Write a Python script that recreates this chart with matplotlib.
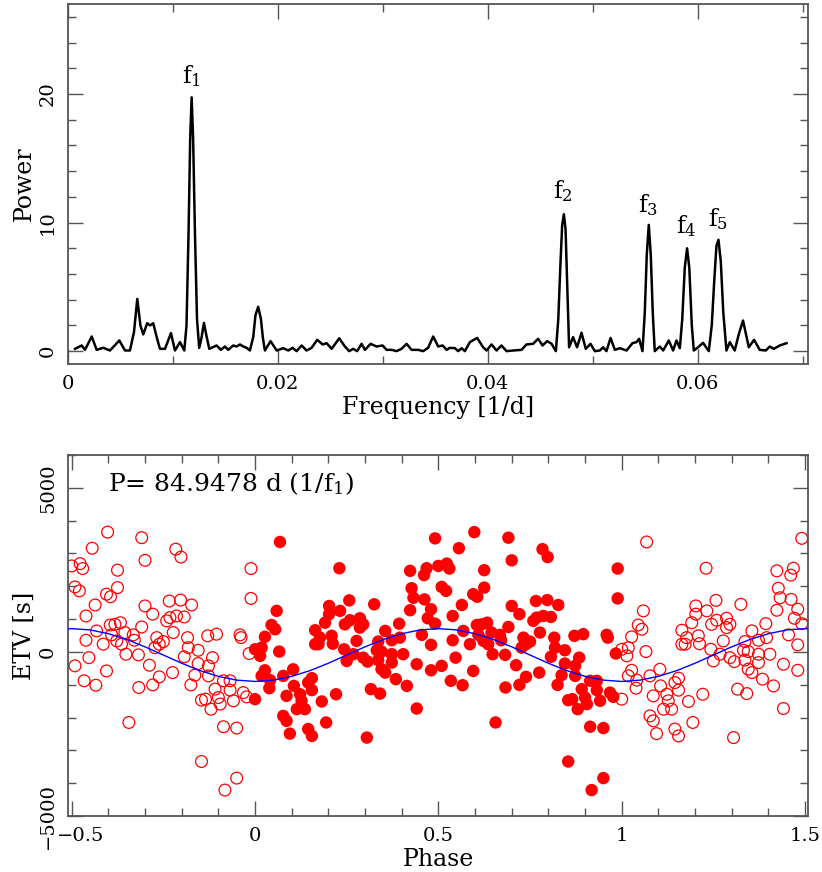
import numpy as np
import matplotlib
matplotlib.use('Agg')
import matplotlib.pyplot as plt
from matplotlib.ticker import MultipleLocator
from matplotlib.transforms import ScaledTranslation

plt.rcParams['font.family'] = ['DejaVu Serif']
plt.rcParams['mathtext.default'] = 'regular'

# ---------------- periodogram (frequency in 1e-3 1/d) ----------------
freq_e3 = [0.67, 1.30, 1.62, 2.26, 2.73, 3.36, 4.00, 4.89, 5.43, 5.90, 6.29, 6.60, 6.90, 7.17, 7.55, 7.81,
           8.12, 8.48, 8.76, 9.24, 9.81, 10.19, 10.67, 11.08, 11.29, 11.48, 11.64, 11.78, 11.92, 12.10, 12.29,
           12.50, 12.71, 12.95, 13.19, 13.46, 14.16, 14.57, 14.95, 15.27, 15.74, 16.07, 16.38, 16.70, 17.02,
           17.33, 17.65, 17.86, 18.12, 18.38, 18.57, 18.76, 19.30, 19.88, 20.50, 20.98, 21.40, 21.78, 22.26,
           22.73, 23.21, 23.74, 24.26, 24.64, 25.12, 25.84, 26.38, 26.79, 27.17, 27.55, 27.97, 28.29, 28.83,
           29.40, 29.97, 30.35, 30.83, 31.30, 31.78, 32.26, 32.73, 33.36, 33.84, 34.31, 34.79, 35.27, 35.69,
           36.07, 36.38, 36.86, 37.17, 37.50, 37.81, 38.29, 38.98, 39.55, 39.88, 40.35, 40.83, 41.30, 41.78,
           42.41, 43.21, 43.68, 44.31, 44.79, 45.21, 45.65, 46.07, 46.48, 46.71, 46.90, 47.08, 47.24, 47.40,
           47.57, 47.74, 48.12, 48.50, 48.92, 49.33, 49.78, 50.19, 50.67, 50.98, 51.30, 51.69, 52.10, 52.57,
           53.21, 53.78, 54.16, 54.41, 54.73, 54.95, 55.14, 55.33, 55.52, 55.71, 55.90, 56.38, 56.70, 57.24,
           57.65, 57.97, 58.29, 58.52, 58.76, 58.98, 59.19, 59.43, 59.62, 60.03, 60.50, 61.05, 61.33, 61.57,
           61.78, 61.97, 62.19, 62.43, 62.73, 63.05, 63.52, 63.90, 64.31, 64.62, 64.86, 65.36, 65.90, 66.48,
           66.86, 67.24, 67.81, 68.45]
power = [0.18, 0.44, 0.10, 1.14, 0.10, 0.26, 0.05, 0.83, 0.05, 0.05, 1.5, 4.06, 2.0, 1.3, 2.17, 2.0,
         2.17, 1.0, 0.18, 0.18, 1.4, 0.05, 0.7, 0.05, 2.0, 9.0, 16.5, 19.74, 16.5, 9.0, 2.5,
         0.25, 1.0, 2.2, 1.2, 0.18, 0.44, 0.10, 0.36, 0.10, 0.44, 0.36, 0.52, 0.36, 0.26,
         0.05, 1.1, 2.8, 3.45, 2.5, 1.0, 0.05, 0.78, 0.05, 0.23, 0.05, 0.26, 0.00, 0.44,
         0.05, 0.26, 0.88, 0.52, 0.62, 0.18, 1.00, 0.36, 0.00, 0.18, 0.00, 0.57, 0.10, 0.57,
         0.36, 0.44, 0.10, 0.10, 0.00, 0.18, 0.57, 0.10, 0.10, 0.00, 0.26, 1.14, 0.36, 0.44,
         0.10, 0.26, 0.23, 0.00, 0.23, 0.00, 0.70, 1.03, 0.30, 0.05, 0.52, 0.05, 0.44, 0.00,
         0.05, 0.10, 0.52, 0.57, 0.96, 0.44, 0.78, 0.57, 0.00, 2.5, 6.5, 9.8, 10.65, 9.5,
         5.0, 0.3, 1.09, 0.30, 1.43, 0.18, 0.57, 0.00, 0.05, 0.30, 0.00, 1.03, 0.10, 0.23,
         0.05, 0.62, 0.70, 0.96, 0.00, 3.0, 7.5, 9.82, 7.5, 3.0, 0.00, 0.36, 0.05, 0.83,
         0.05, 0.83, 0.23, 2.5, 6.5, 8.0, 6.5, 2.0, 0.05, 0.30, 0.65, 0.00, 2.0, 5.5,
         8.2, 8.66, 7.0, 3.0, 0.05, 0.70, 0.05, 1.3, 2.38, 1.2, 0.30, 0.88, 0.10, 0.05,
         0.36, 0.18, 0.44, 0.62]

peak_labels = ['f$_1$', 'f$_2$', 'f$_3$', 'f$_4$', 'f$_5$']
peak_label_freq_e3 = [11.8, 47.15, 55.3, 58.9, 61.9]
peak_label_power = [21.4, 12.45, 11.4, 9.7, 10.3]

# ---------------- ETV phase diagram ----------------
phase = [0.068, 0.230, 0.257, 0.059, 0.202, 0.232, 0.202, 0.191, 0.245, 0.045, 0.055, 0.027, 0.164, 0.177,
         0.209, 0.212, 0.164, 0.173, 0.000, 0.018, 0.014, 0.066, 0.243, 0.250, 0.027, 0.018, 0.104, 0.077,
         0.041, 0.039, 0.155, 0.145, 0.106, 0.155, 0.086, 0.123, 0.127, 0.114, 0.136, 0.182, 0.221, 0.000,
         0.077, 0.086, 0.194, 0.095, 0.145, 0.155,
         0.491, 0.423, 0.468, 0.500, 0.461, 0.509, 0.427, 0.432, 0.462, 0.325, 0.423, 0.480, 0.286, 0.259,
         0.471, 0.491, 0.295, 0.286, 0.393, 0.355, 0.455, 0.277, 0.373, 0.395, 0.336, 0.480, 0.332, 0.345,
         0.268, 0.404, 0.295, 0.307, 0.336, 0.373, 0.373, 0.441, 0.480, 0.509, 0.345, 0.355, 0.384, 0.414,
         0.316, 0.341, 0.441, 0.305,
         0.598, 0.691, 0.556, 0.700, 0.523, 0.530, 0.625, 0.521, 0.625, 0.595, 0.606, 0.564, 0.766, 0.700,
         0.721, 0.539, 0.759, 0.768, 0.605, 0.633, 0.618, 0.691, 0.568, 0.645, 0.668, 0.609, 0.539, 0.586,
         0.623, 0.636, 0.671, 0.732, 0.739, 0.750, 0.727, 0.777, 0.648, 0.682, 0.547, 0.712, 0.595, 0.534,
         0.566, 0.739, 0.721, 0.683, 0.775, 0.656,
         0.784, 0.798, 0.989, 0.989, 0.797, 0.827, 0.786, 0.807, 0.816, 0.871, 0.895, 0.959, 0.962, 0.818,
         0.845, 0.807, 0.884, 0.984, 0.845, 0.873, 0.836, 0.873, 0.914, 0.932, 0.932, 0.891, 0.968, 0.977,
         0.825, 0.854, 0.865, 0.900, 0.905, 0.880, 0.941, 0.914, 0.950, 0.854, 0.950, 0.918]
etv = [3350, 2550, 1570, 1250, 1400, 1250, 1150, 890, 840, 820, 690, 460, 660, 435,
       490, 250, 235, 235, 80, 130, -120, 10, 80, -275, -560, -730, -530, -730,
       -860, -1105, -800, -935, -1035, -1165, -1340, -1290, -1490, -1745, -1745, -1510, -1290, -1440,
       -1950, -2100, -2150, -2490, -2350, -2560,
       3460, 2470, 2550, 2620, 2340, 1980, 1940, 1650, 1600, 1450, 1270, 1300, 1025, 965,
       1025, 860, 840, 740, 860, 640, 520, 335, 355, 435, 315, 215, 50, 10,
       -70, -70, -175, -295, -250, -70, -325, -375, -560, -425, -525, -630, -830, -1035,
       -1135, -1270, -1725, -2610,
       3650, 3480, 3160, 2790, 2690, 2540, 2490, 1860, 1960, 1760, 1680, 1430, 1550, 1400,
       1150, 1095, 945, 1045, 820, 890, 840, 760, 640, 590, 520, 520, 355, 235,
       335, 235, 355, 435, 235, 315, 130, 590, -70, -90, -175, -405, -580, -880,
       -1015, -760, -1005, -1085, -630, -2150,
       3130, 2890, 2540, 1630, 1580, 1430, 1095, 1065, 435, 490, 540, 520, 435, 130,
       50, -150, -175, -50, -355, -425, -710, -730, -880, -880, -1165, -1135, -1240, -1370,
       -1005, -1470, -1440, -1390, -1590, -1745, -1490, -2280, -2320, -3340, -3845, -4210]

model_phase = [0.00, 0.05, 0.10, 0.15, 0.20, 0.25, 0.30, 0.35, 0.40, 0.45, 0.50,
               0.55, 0.60, 0.65, 0.70, 0.75, 0.80, 0.85, 0.90, 0.95, 1.00]
model_etv = [-900, -860, -745, -570, -345, -95, 155, 380, 555, 670, 710,
             670, 555, 380, 155, -95, -345, -570, -745, -860, -900]

# ---------------- figure ----------------
fig = plt.figure(figsize=(8.22, 8.72), dpi=100)
frame_col = '#555555'

ax1 = fig.add_axes([68 / 822, 1 - 364 / 872, 740 / 822, 360 / 872])
ax1.plot(np.array(freq_e3) * 1e-3, power, color='black', lw=1.8)
for lab, fx, py in zip(peak_labels, peak_label_freq_e3, peak_label_power):
    ax1.text(fx * 1e-3, py, lab, ha='center', va='center', fontsize=17)
ax1.set_xlim(0, 0.0705)
ax1.set_ylim(-1, 27)
ax1.xaxis.set_major_locator(MultipleLocator(0.02))
ax1.xaxis.set_minor_locator(MultipleLocator(0.01))
ax1.yaxis.set_major_locator(MultipleLocator(10))
ax1.yaxis.set_minor_locator(MultipleLocator(2))
ax1.set_xticks([0, 0.02, 0.04, 0.06])
ax1.set_xticklabels(['0', '0.02', '0.04', '0.06'])
ax1.set_xlabel('Frequency [1/d]', fontsize=17, labelpad=2)
ax1.set_ylabel('Power', fontsize=17, labelpad=2)

ax2 = fig.add_axes([68 / 822, 1 - 816 / 872, 740 / 822, 361 / 872])
ph = np.array(phase)
ev = np.array(etv)
left = ph >= 0.5
right = ph < 0.5
ax2.scatter(ph[left] - 1, ev[left], s=72, facecolors='none', edgecolors='red', linewidths=0.9, zorder=2)
ax2.scatter(ph[right] + 1, ev[right], s=72, facecolors='none', edgecolors='red', linewidths=0.9, zorder=2)
ax2.scatter(ph, ev, s=80, color='red', edgecolors='none', zorder=2)
mp = np.array(model_phase)
me = np.array(model_etv)
ax2.plot(np.concatenate([mp - 1, mp[1:], mp[1:] + 1]), np.concatenate([me, me[1:], me[1:]]),
         color='blue', lw=1.0, zorder=3)
ax2.set_xlim(-0.51, 1.508)
ax2.set_ylim(-5000, 6000)
ax2.xaxis.set_major_locator(MultipleLocator(0.5))
ax2.xaxis.set_minor_locator(MultipleLocator(0.1))
ax2.yaxis.set_major_locator(MultipleLocator(5000))
ax2.yaxis.set_minor_locator(MultipleLocator(1000))
ax2.set_xticks([-0.5, 0, 0.5, 1, 1.5])
ax2.set_xticklabels(['\u22120.5', '0', '0.5', '1', '1.5'])
ax2.set_xlabel('Phase', fontsize=17, labelpad=2)
ax2.set_ylabel('ETV [s]', fontsize=17, labelpad=2)
ax2.text(-0.40, 5140, 'P= 84.9478 d (1/f$_1$)', ha='left', va='center', fontsize=18)

for ax in (ax1, ax2):
    for sp in ax.spines.values():
        sp.set_color(frame_col)
        sp.set_linewidth(1.3)
    ax.tick_params(which='both', direction='in', top=True, right=True, color=frame_col, width=1.0,
                   labelsize=14)
    ax.tick_params(which='major', length=11)
    ax.tick_params(which='minor', length=6)
    ax.tick_params(axis='x', pad=8)
    ax.tick_params(axis='y', pad=8)
    for t in ax.get_yticklabels():
        t.set_rotation(90)
        t.set_va('center')

# the reference's "-0.5" label sits slightly right of its tick
first = ax2.get_xticklabels()[0]
first.set_transform(first.get_transform() + ScaledTranslation(9 / 100, 0, fig.dpi_scale_trans))

fig.savefig('out.png', dpi=100)
